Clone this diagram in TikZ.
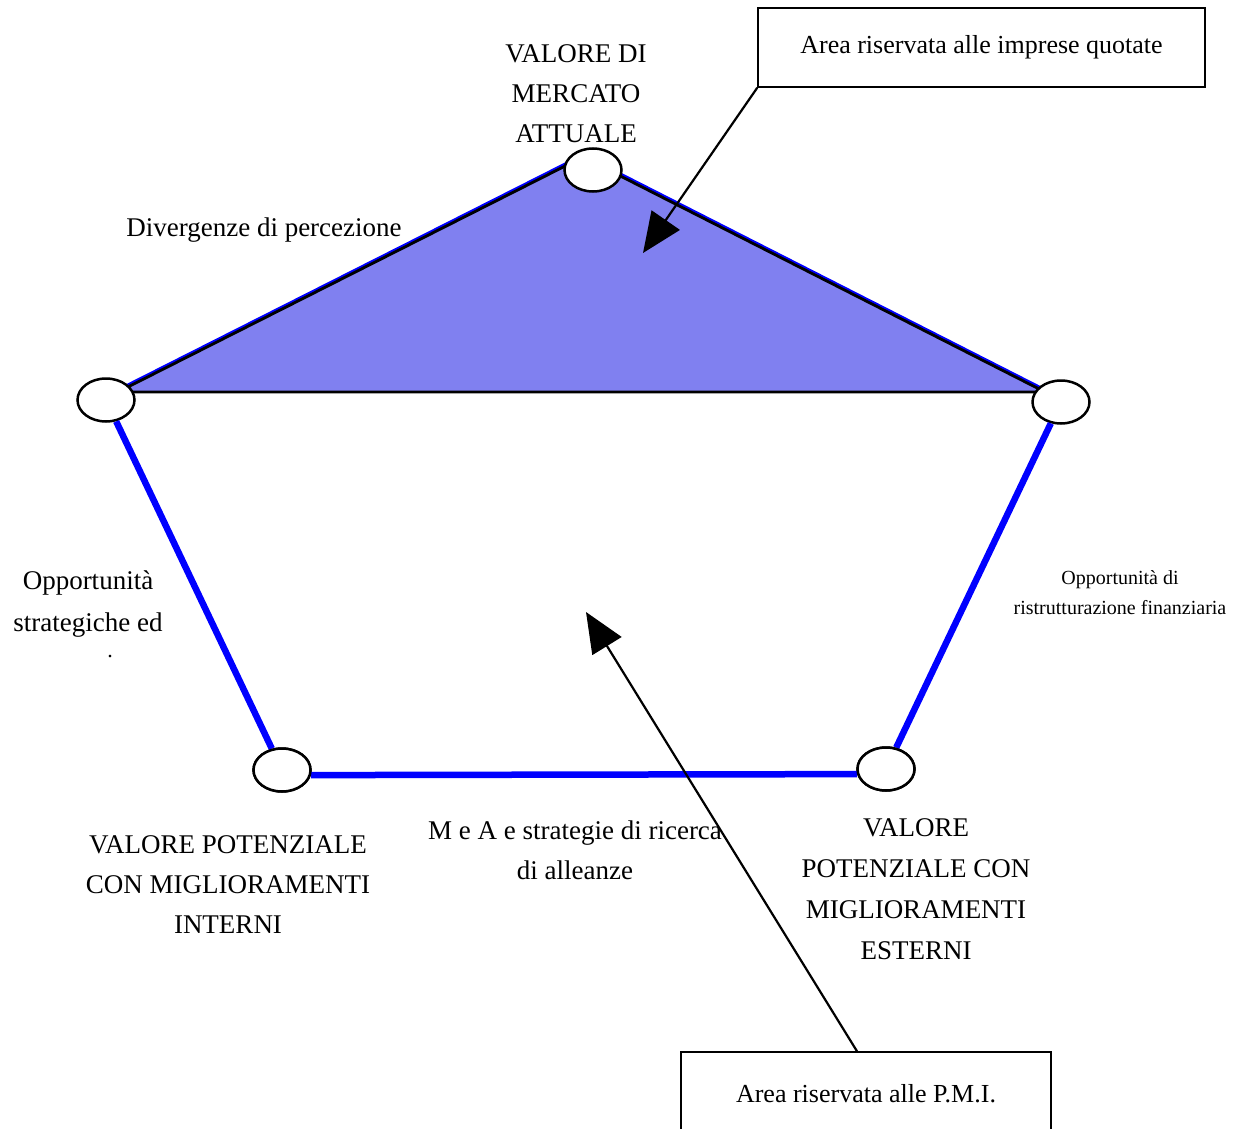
\documentclass[tikz,border=0pt]{standalone}
\usepackage{fontspec}
\setmainfont{Liberation Serif}
\usepackage{xcolor}
\usetikzlibrary{shapes.geometric,arrows.meta}
\definecolor{areacol}{RGB}{128,128,240}

\begin{document}
\begin{tikzpicture}[x=1pt, y=-1pt,
  vertice/.style={draw, ellipse, line width=2.5pt, fill=white,
                  minimum width=57pt, minimum height=43pt, inner sep=0pt},
  lato/.style={draw=blue, line width=6.5pt},
  etichetta/.style={align=center, inner sep=0pt, font=\fontsize{27}{40}\selectfont},
  piccola/.style={align=center, inner sep=0pt, font=\fontsize{20}{30}\selectfont},
  riquadro/.style={draw, line width=1.5pt, align=center, inner sep=0pt,
                   font=\fontsize{26}{30}\selectfont},
  freccia/.style={line width=2.2pt, -{Triangle[length=40pt,width=34pt]}},
]
\useasboundingbox (0,0) rectangle (1245,1129);

% area delle imprese quotate
\coordinate (apice) at (583,157);
\coordinate (baseL) at (118,392);
\coordinate (baseR) at (1045,392);
\fill[areacol] (baseL) -- (apice) -- (baseR) -- cycle;
\draw[blue, line width=3pt] ([yshift=2pt]baseL) -- ([yshift=2pt]apice) -- ([yshift=2pt]baseR);
\draw[line width=2.8pt] (baseL) -- (apice) -- (baseR) -- cycle;

% vertici
\node[vertice] (mercato)  at (593,170) {};
\node[vertice] (sinistra) at (106,400) {};
\node[vertice] (destra)   at (1061,402) {};
\node[vertice] (interni)  at (282,770) {};
\node[vertice] (esterni)  at (886,769) {};

\draw[lato] (sinistra) -- (interni);
\draw[lato] (interni.-10) -- (esterni.190);
\draw[lato] (esterni) -- (destra);
\node[vertice] at (interni) {};
\node[vertice] at (esterni) {};

% testi
\node[etichetta] (tmercato) at (576,94) {VALORE DI\\MERCATO\\ATTUALE};
\node[etichetta] (divergenze) at (264,230) {Divergenze di percezione};
\node[etichetta, font=\fontsize{27}{42}\selectfont] (strategiche) at (88,604) {Opportunità\\strategiche ed};
\node[inner sep=0pt, font=\fontsize{22}{22}\selectfont] (punto) at (110,657) {.};
\node[piccola] (finanziaria) at (1120,593) {Opportunità di\\ristrutturazione finanziaria};
\node[etichetta] (alleanze) at (575,850) {M e A e strategie di ricerca\\di alleanze};
\node[etichetta] (tinterni) at (228,885) {VALORE POTENZIALE\\CON MIGLIORAMENTI\\INTERNI};
\node[etichetta, font=\fontsize{27}{41}\selectfont] (testerni) at (916,889) {VALORE\\POTENZIALE CON\\MIGLIORAMENTI\\ESTERNI};

% riquadri e frecce
\node[riquadro, minimum width=447pt, minimum height=79pt] (quotate) at (981.5,47.5)
  {Area riservata alle imprese quotate};
\node[riquadro, minimum width=370pt, minimum height=84pt] (pmi) at (866,1094)
  {Area riservata alle P.M.I.};
\coordinate (puntaquotate) at (643,253);
\coordinate (puntapmi) at (586,612);
\draw[freccia] (quotate.south west) -- (puntaquotate);
\draw[freccia] ([xshift=-9pt]pmi.north) -- (puntapmi);
\end{tikzpicture}
\end{document}
